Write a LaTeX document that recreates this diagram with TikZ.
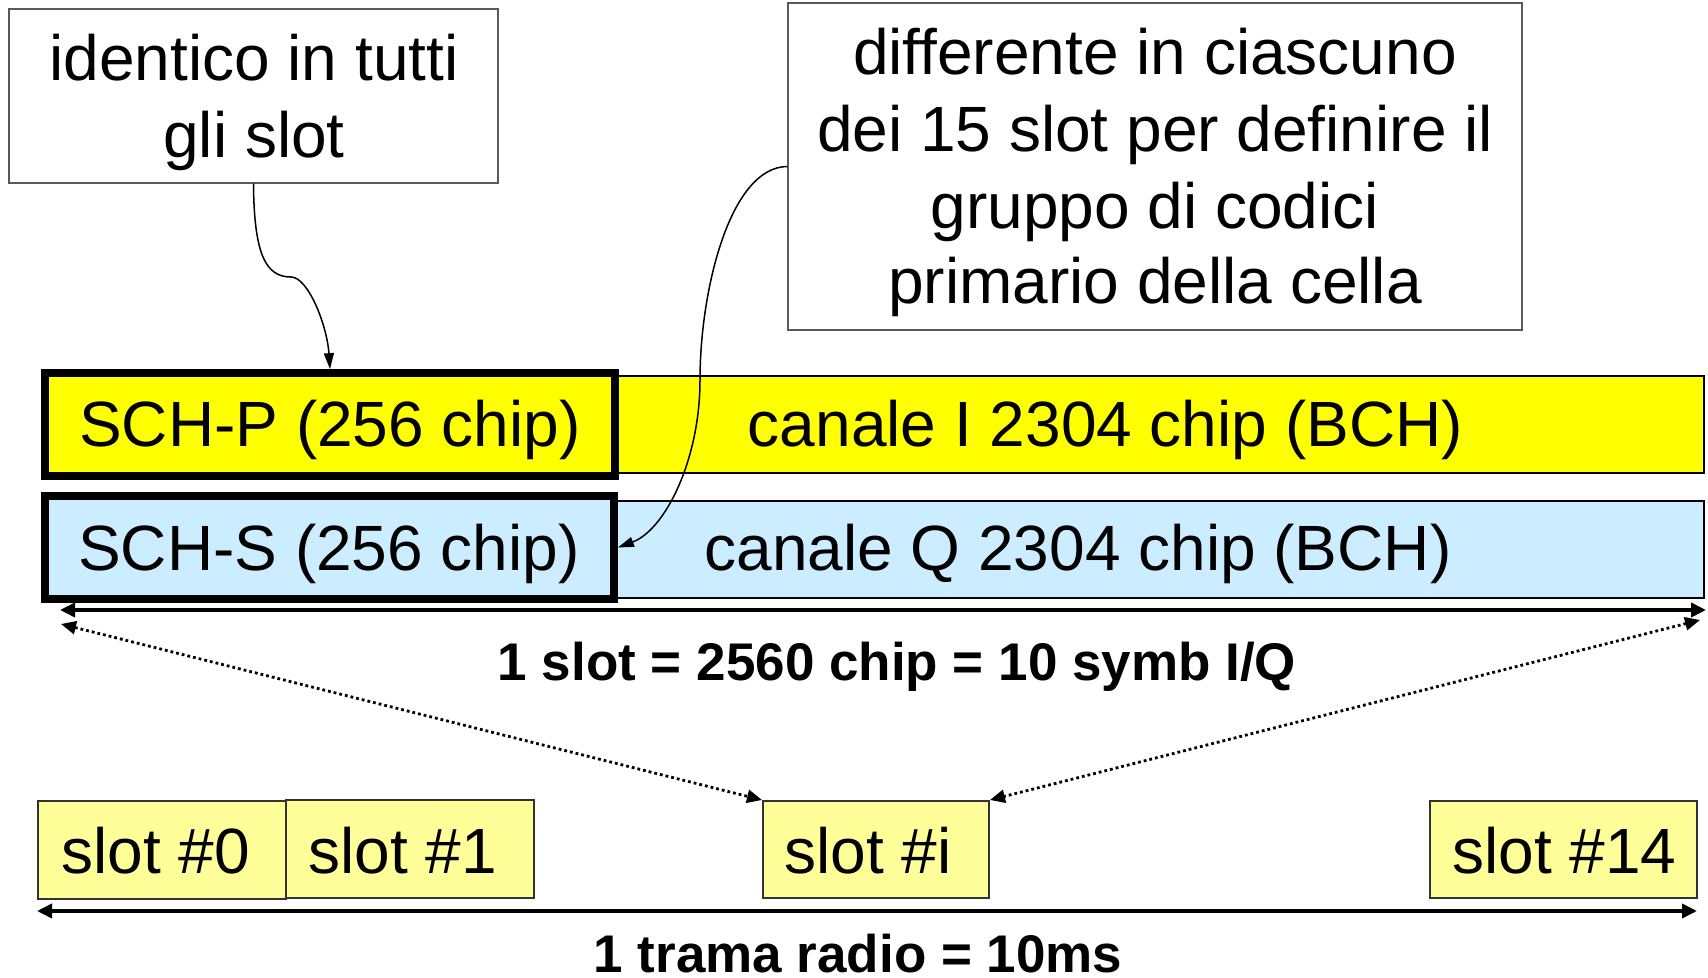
\documentclass[tikz,border=0pt]{standalone}
\usepackage{fontspec}
\setmainfont{Liberation Sans}
\usetikzlibrary{arrows.meta}
\definecolor{chY}{HTML}{FFFF00}
\definecolor{chB}{HTML}{CCECFF}
\definecolor{slotY}{HTML}{FFFF99}
\begin{document}
\begin{tikzpicture}[x=0.5pt,y=-0.5pt,
  note/.style={draw=black!65, line width=0.7pt, fill=white, inner sep=0pt},
  bar/.style={draw=black, line width=1.2pt, inner sep=0pt},
  sch/.style={draw=black, line width=3.85pt, inner sep=0pt},
  slotbox/.style={draw=black!80, line width=1pt, fill=slotY, inner sep=0pt},
  big/.style={font=\fontsize{32}{38}\selectfont, inner sep=0pt, anchor=base},
  bigw/.style={font=\fontsize{32}{38}\selectfont, inner sep=0pt, anchor=base west},
  lbl/.style={font=\fontsize{26.5}{32}\selectfont\bfseries, inner sep=0pt, anchor=base},
  dimarrow/.style={line width=1.8pt, {Triangle[length=7.5pt,width=7pt]}-{Triangle[length=7.5pt,width=7pt]}},
  dotarrow/.style={line width=1.4pt, dash pattern=on 1.4pt off 1.5pt, {Triangle[length=7.5pt,width=6.5pt]}-{Triangle[length=7.5pt,width=6.5pt]}},
  callout/.style={line width=0.75pt, -{Triangle[length=8pt,width=5pt]}}
]
\useasboundingbox (0,0) rectangle (1708,978);

% notes
\node[note, minimum width=244.5pt, minimum height=87pt] (note1) at (253.5,96) {};
\node[big] (t1a) at (254,81) {identico in tutti};
\node[big] (t1b) at (254,158) {gli slot};

\node[note, minimum width=367pt, minimum height=163.5pt] (note2) at (1155,166.5) {};
\node[big] (t2a) at (1155,75) {differente in ciascuno};
\node[big] (t2b) at (1155,152) {dei 15 slot per definire il};
\node[big] (t2c) at (1155,229) {gruppo di codici};
\node[big] (t2d) at (1155,304) {primario della cella};

% channel bars
\node[bar, fill=chY, minimum width=829.5pt, minimum height=48.5pt] (ibar) at (874.5,424.5) {};
\node[sch, fill=chY, minimum width=285pt, minimum height=51.5pt] (schp) at (330,424.5) {};
\node[big] (tschp) at (330,447) {SCH-P (256 chip)};
\node[big] (tibar) at (1105.5,447) {canale I 2304 chip (BCH)};

\node[bar, fill=chB, minimum width=829.5pt, minimum height=48.5pt] (qbar) at (874.5,549.5) {};
\node[sch, fill=chB, minimum width=284.5pt, minimum height=51.5pt] (schs) at (329.5,547.5) {};
\node[big] (tschs) at (329,570) {SCH-S (256 chip)};
\node[big] (tqbar) at (1078,570) {canale Q 2304 chip (BCH)};

% slot dimension
\coordinate (sl) at (60,610);
\coordinate (sr) at (1706,610);
\draw[dimarrow] (sl) -- (sr);
\node[lbl] (tslot) at (897,680) {1 slot = 2560 chip = 10 symb I/Q};

% slots
\node[slotbox, minimum width=124pt, minimum height=49pt] (slot0) at (162,850) {};
\node[slotbox, minimum width=124pt, minimum height=49pt] (slot1) at (410,849) {};
\node[slotbox, minimum width=113pt, minimum height=48.5pt] (sloti) at (876,849.5) {};
\node[slotbox, minimum width=133.5pt, minimum height=48.5pt] (slot14) at (1563.5,849.5) {};
\node[bigw] (ts0) at (61,873) {slot \#0};
\node[bigw] (ts1) at (308,873) {slot \#1};
\node[bigw] (tsi) at (784,873) {slot \#i};
\node[bigw] (ts14) at (1452,873) {slot \#14};

% dotted zoom arrows
\coordinate (dl) at (61,624);
\coordinate (dr) at (1700,620);
\draw[dotarrow] (dl) -- (sloti.north west);
\draw[dotarrow] (dr) -- (sloti.north east);

% frame dimension
\coordinate (fl) at (37,911);
\coordinate (fr) at (1697,911);
\draw[dimarrow] (fl) -- (fr);
\node[lbl] (tframe) at (858,972) {1 trama radio = 10ms};

% callout connectors
\coordinate (bend1) at (291,277);
\draw[callout] (note1.south) .. controls (254,255) and (266,277) .. (bend1)
  .. controls (308,277) and (327,325) .. (schp.north);
\coordinate (bend2) at (700,380);
\draw[callout] (note2.west) .. controls (730,167) and (700,290) .. (bend2)
  .. controls (700,460) and (665,530) .. (schs.east);
\end{tikzpicture}
\end{document}
